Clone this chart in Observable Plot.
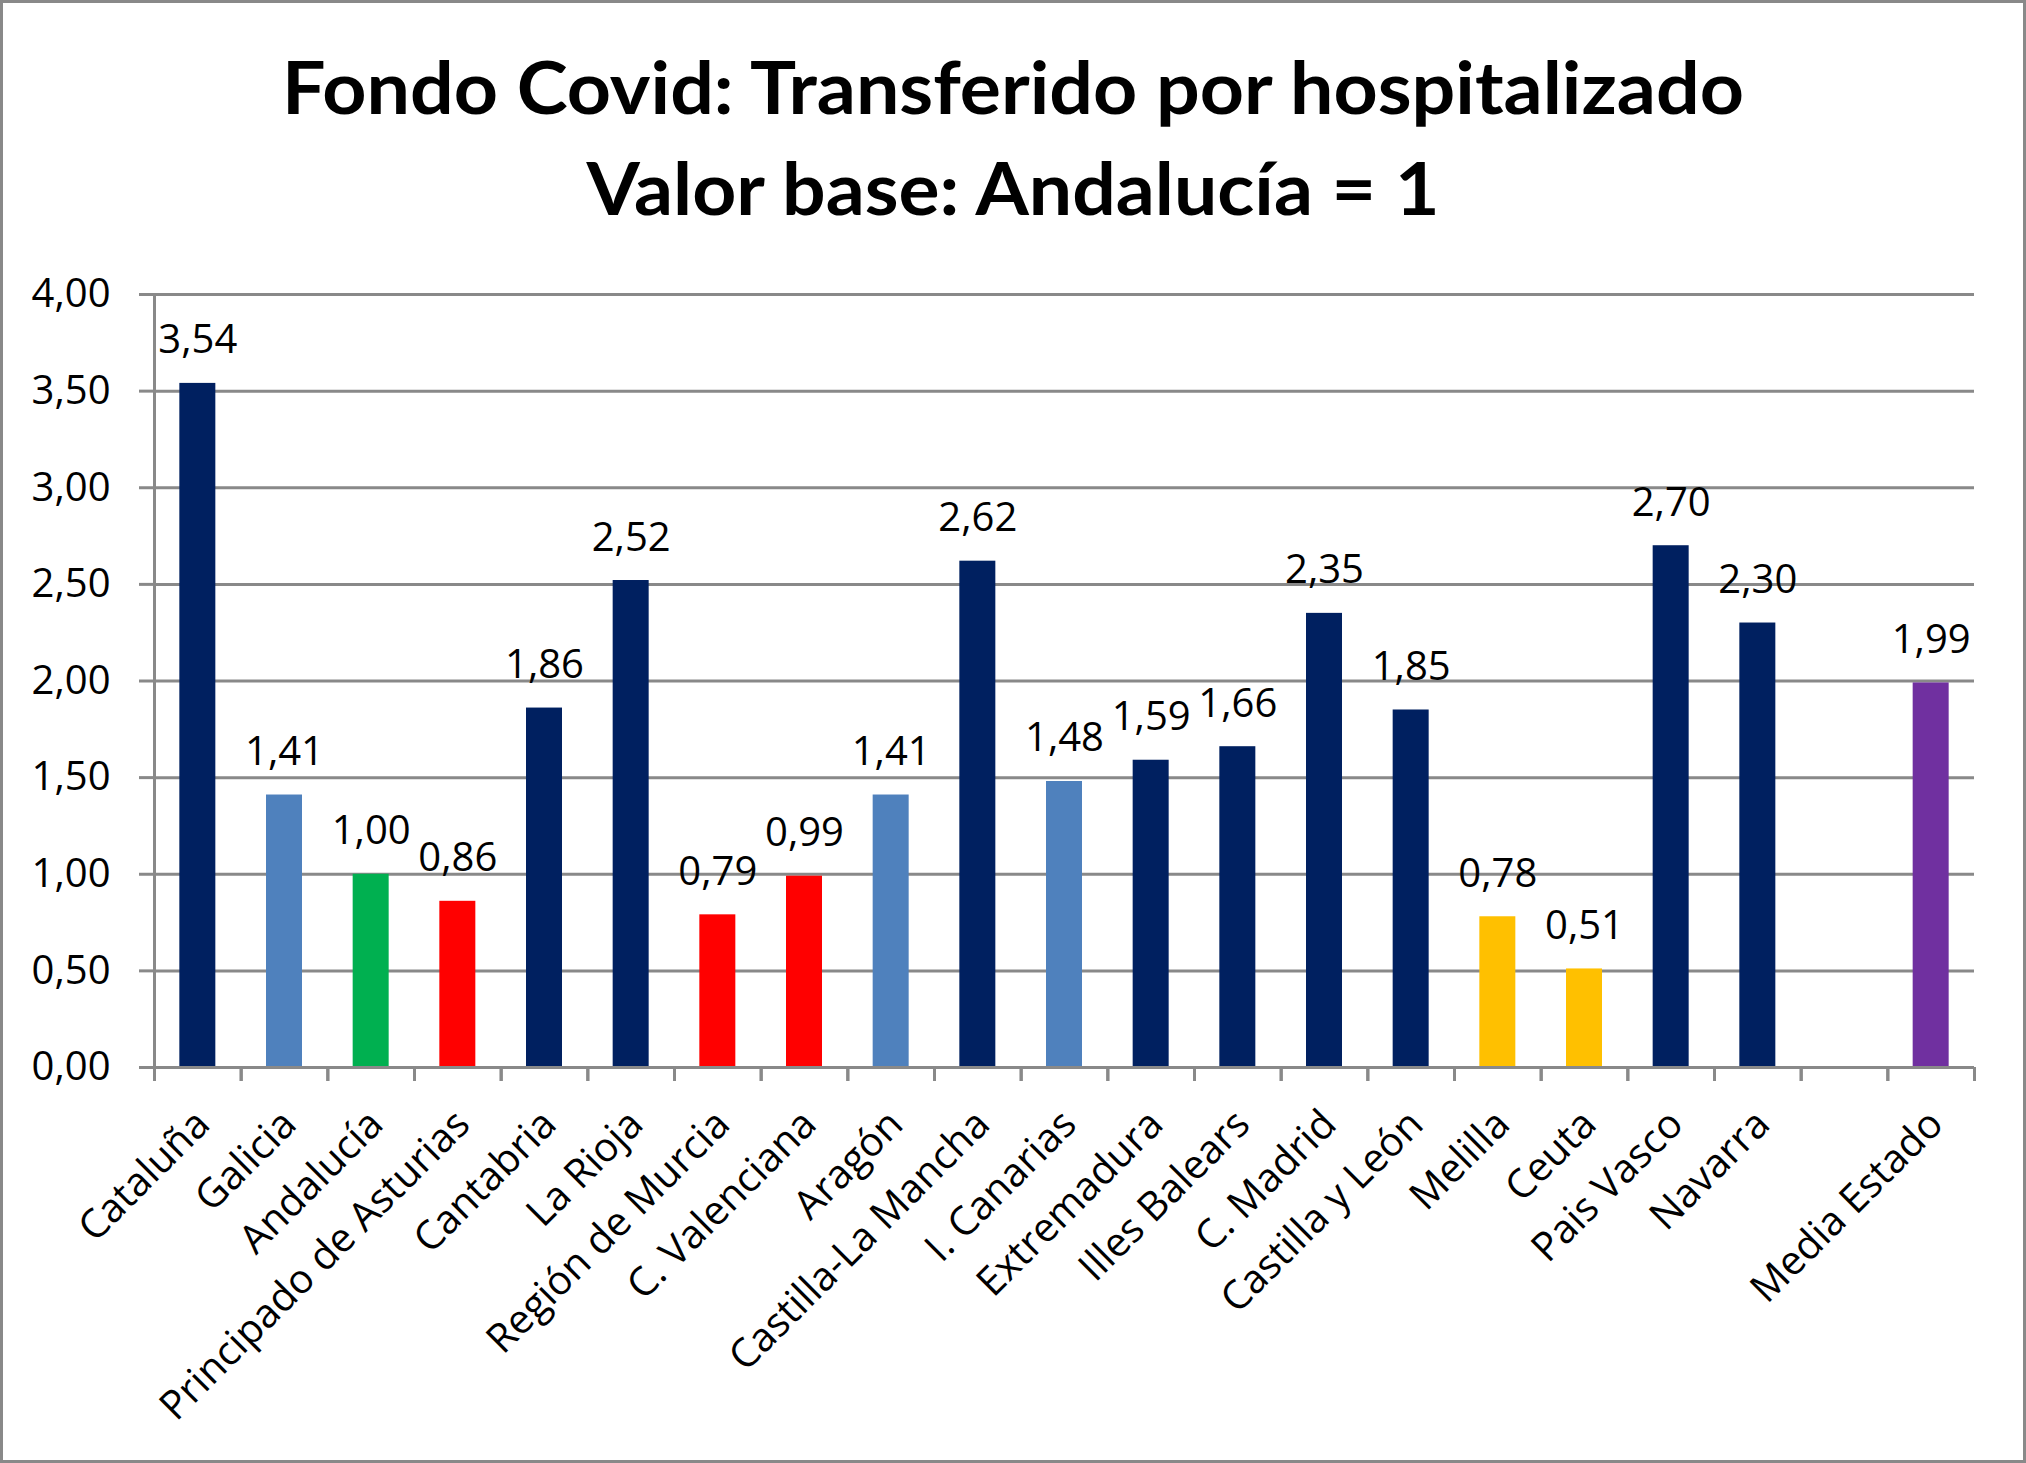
<!DOCTYPE html>
<html>
<head>
<meta charset="utf-8">
<script src="https://cdn.jsdelivr.net/npm/d3@7"></script>
<script src="https://cdn.jsdelivr.net/npm/@observablehq/plot@0.6"></script>
<style>
  html, body { margin: 0; padding: 0; background: #fff; }
  #page { position: relative; width: 2026px; height: 1463px; background: #fff; overflow: hidden; }
  #border { position: absolute; left: 0; top: 0; width: 2026px; height: 1463px; box-sizing: border-box; border: 3px solid #898989; pointer-events: none; }
  #title { position: absolute; left: 0; top: 0; }
  #chart { position: absolute; left: 0; top: 240px; }
</style>
</head>
<body>
<div id="page">
  <svg id="title" width="2026" height="240" xmlns="http://www.w3.org/2000/svg">
    <text x="1013" y="114" text-anchor="middle" font-family="Lato" font-weight="700" font-size="72" fill="#000" textLength="1462" lengthAdjust="spacingAndGlyphs">Fondo Covid: Transferido por hospitalizado</text>
    <text x="1013" y="215" text-anchor="middle" font-family="Lato" font-weight="700" font-size="72" fill="#000" textLength="853" lengthAdjust="spacingAndGlyphs">Valor base: Andalucía = 1</text>
  </svg>
  <div id="chart"></div>
  <div id="border"></div>
</div>
<script>
// ---- data ----
const categories = [
  "Cataluña", "Galicia", "Andalucía", "Principado de Asturias", "Cantabria",
  "La Rioja", "Región de Murcia", "C. Valenciana", "Aragón", "Castilla-La Mancha",
  "I. Canarias", "Extremadura", "Illes Balears", "C. Madrid", "Castilla y León",
  "Melilla", "Ceuta", "Pais Vasco", "Navarra", "", "Media Estado"
];
const values = [
  3.54, 1.41, 1.00, 0.86, 1.86,
  2.52, 0.79, 0.99, 1.41, 2.62,
  1.48, 1.59, 1.66, 2.35, 1.85,
  0.78, 0.51, 2.70, 2.30, null, 1.99
];
const groups = [
  "grupoA", "grupoB", "grupoC", "grupoD", "grupoA",
  "grupoA", "grupoD", "grupoD", "grupoB", "grupoA",
  "grupoB", "grupoA", "grupoA", "grupoA", "grupoA",
  "grupoE", "grupoE", "grupoA", "grupoA", null, "grupoF"
];
const groupNames = ["grupoA", "grupoB", "grupoC", "grupoD", "grupoE", "grupoF"];
const groupColors = ["#002060", "#4F81BD", "#00B050", "#FF0000", "#FFC000", "#7030A0"];
const yTicks = [0, 0.5, 1, 1.5, 2, 2.5, 3, 3.5, 4];

const data = categories.map((c, i) => ({cat: c, value: values[i], group: groups[i]}))
  .filter(d => d.value != null);

const fmt = d3.formatLocale({decimal: ",", thousands: ".", grouping: [3], currency: ["", "€"]}).format(".2f");

// ---- layout ----
const W = 2026, H = 1223;
const ml = 154, mr = 52, mt = 54, mb = 396;
const bw = (W - ml - mr) / categories.length;
const barW = 36;
const ins = (bw - barW) / 2;
const gray = "#898989";

const chart = Plot.plot({
  width: W,
  height: H,
  marginTop: mt,
  marginBottom: mb,
  marginLeft: ml,
  marginRight: mr,
  style: {fontFamily: "'Open Sans'", fontSize: "40px", color: "#000", background: "transparent", overflow: "visible"},
  x: {domain: categories, padding: 0, round: false, label: null},
  y: {domain: [0, 4], label: null},
  color: {type: "ordinal", domain: groupNames, range: groupColors},
  marks: [
    Plot.gridY(yTicks, {stroke: gray, strokeOpacity: 1, strokeWidth: 3}),
    Plot.axisY(yTicks, {tickSize: 15, tickPadding: 29, tickFormat: fmt, stroke: gray, strokeWidth: 3, strokeOpacity: 1, fill: "#000", fontSize: 40}),
    Plot.barY(data, {x: "cat", y: "value", fill: "group", insetLeft: ins, insetRight: ins}),
    Plot.text(data, {x: "cat", y: "value", text: d => fmt(d.value), lineAnchor: "bottom", dy: -30, fontSize: 40, fill: "#000"}),
    Plot.frame({anchor: "left", stroke: gray, strokeWidth: 3}),
    Plot.ruleY([0], {stroke: gray, strokeWidth: 3}),
    Plot.axisX({tickSize: 14, dx: -bw / 2, tickFormat: () => "", stroke: gray, strokeWidth: 3, strokeOpacity: 1}),
    Plot.axisX({tickSize: 14, dx: bw / 2, tickFormat: () => "", stroke: gray, strokeWidth: 3, strokeOpacity: 1}),
    Plot.axisX({tickSize: 0, tickRotate: -45, tickPadding: 50, dx: 5, tickFormat: d => d, fontSize: 40, fill: "#000"})
  ]
});
document.getElementById("chart").appendChild(chart);
</script>
</body>
</html>
